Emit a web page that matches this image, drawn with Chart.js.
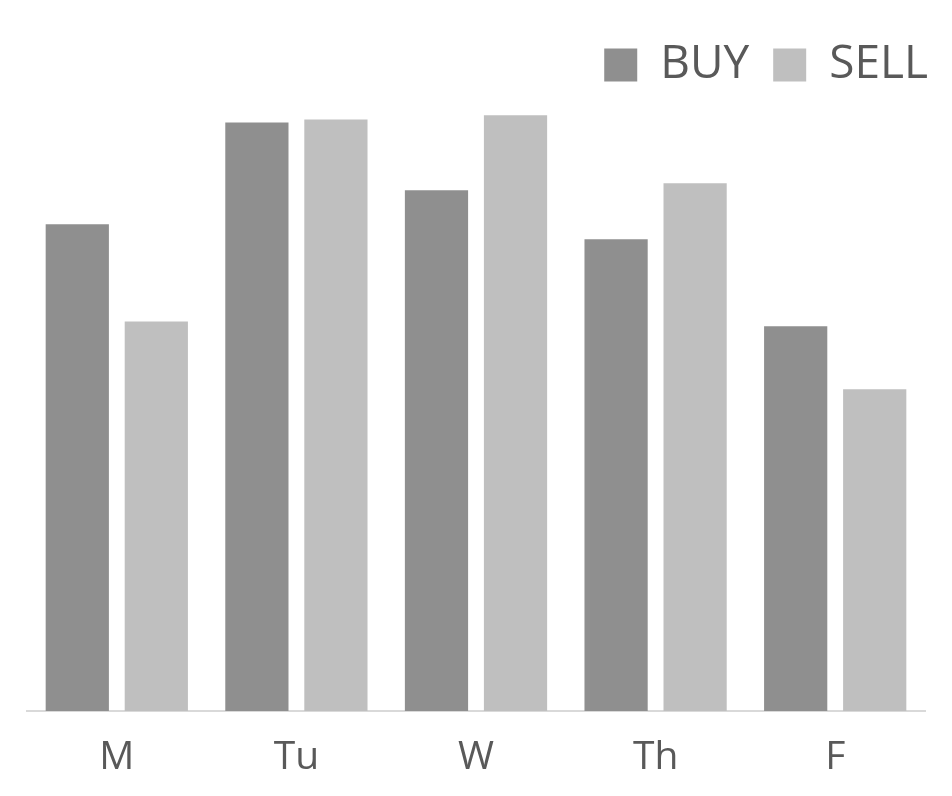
<!DOCTYPE html>
<html>
<head>
<meta charset="utf-8">
<script src="https://cdn.jsdelivr.net/npm/chart.js@4"></script>
<style>
  html, body { margin: 0; padding: 0; background: #fff; }
  #wrap { width: 952px; height: 796px; }
</style>
</head>
<body>
<div id="wrap"><canvas id="tradeChart"></canvas></div>
<script>
// days and values
const days = ['M', 'Tu', 'W', 'Th', 'F'];
const buyValues = [81.7, 98.8, 87.4, 79.2, 64.6];
const sellValues = [65.4, 99.3, 100, 88.6, 54.0];

// push the legend flush with the right edge of the plot
const legendShift = {
    id: 'legendShift',
    afterLayout(chart) {
        chart.legend.right += 27;
    }
};

const ctx = document.getElementById('tradeChart').getContext('2d');
const tradeChart = new Chart(ctx, {
    type: 'bar',
    data: {
        labels: days,
        datasets: [
            {
                label: 'BUY',
                data: buyValues,
                backgroundColor: '#8f8f8f',
                categoryPercentage: 0.88,
                barPercentage: 0.8
            },
            {
                label: 'SELL',
                data: sellValues,
                backgroundColor: '#bfbfbf',
                categoryPercentage: 0.88,
                barPercentage: 0.8
            }
        ]
    },
    plugins: [legendShift],
    options: {
        responsive: true,
        maintainAspectRatio: false,
        animation: false,
        layout: { padding: { left: 27, right: 27, top: 18, bottom: 0 } },
        plugins: {
            tooltip: { enabled: false },
            legend: {
                position: 'top',
                align: 'end',
                labels: {
                    boxWidth: 33,
                    boxHeight: 33,
                    color: '#595959',
                    font: { family: 'Open Sans', size: 46 },
                    padding: 24
                }
            }
        },
        scales: {
            x: {
                grid: { display: false, drawTicks: false },
                border: { color: '#d9d9d9', width: 2 },
                ticks: {
                    color: '#595959',
                    font: { family: 'Open Sans', size: 39 },
                    padding: 23
                },
                afterFit(scale) {
                    scale.height = 85;
                }
            },
            y: {
                display: false,
                min: 0,
                max: 102.9
            }
        }
    }
});
</script>
</body>
</html>
